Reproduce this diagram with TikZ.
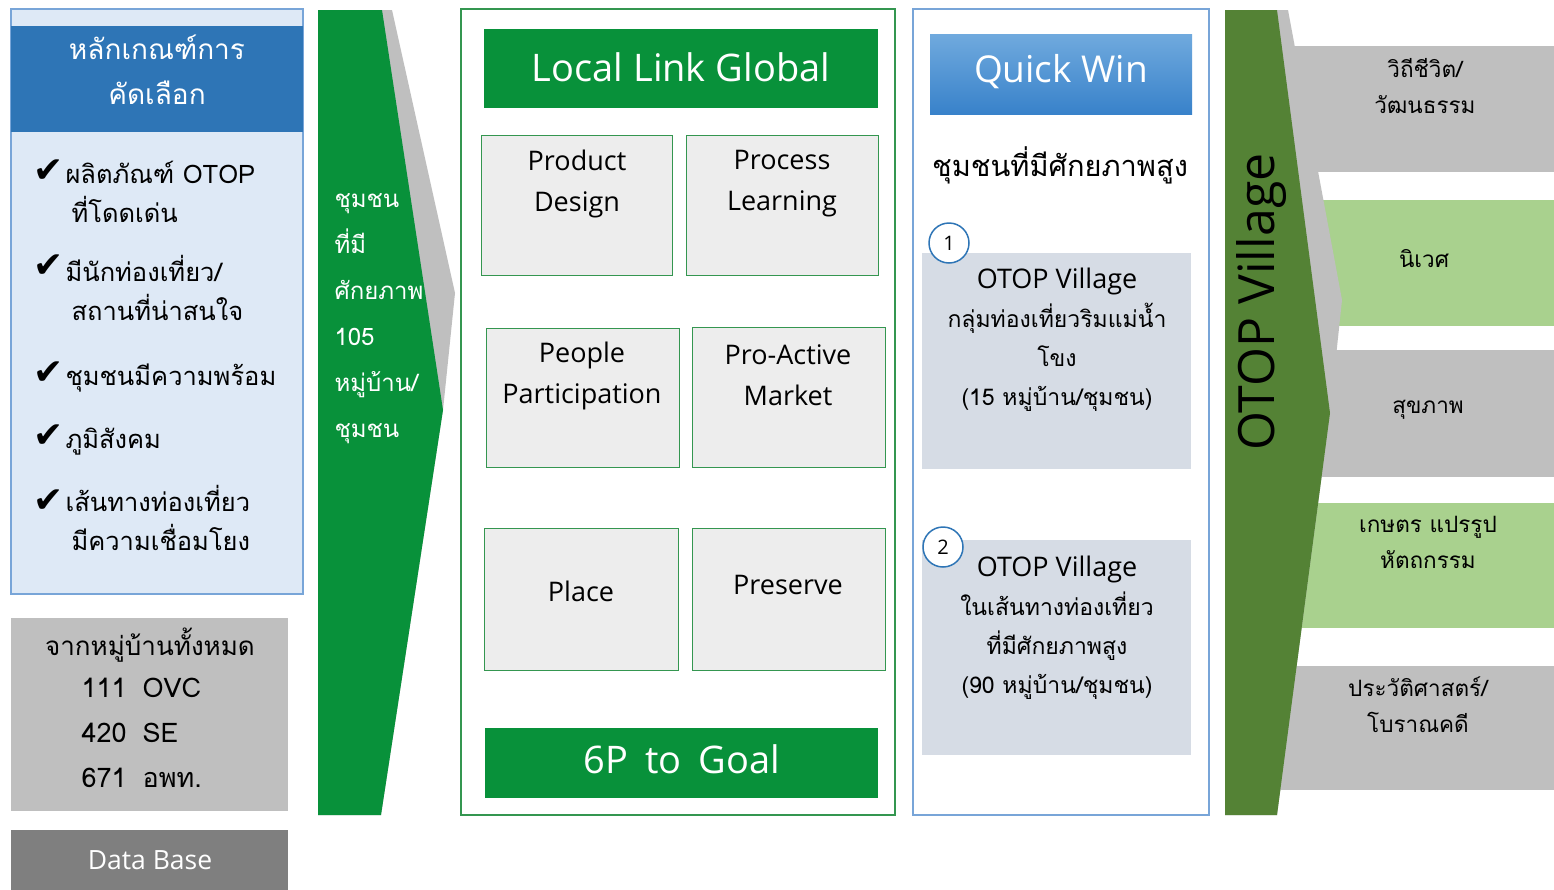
\documentclass[tikz,border=0pt]{standalone}
\usepackage{fontspec}
\setmainfont{Loma}[Script=Thai]
\newfontfamily\latinfont{Open Sans}
\newfontfamily\symbolfont{DejaVu Sans}
\newcommand{\setfs}[2]{\fontsize{#1}{#2}\selectfont}

\definecolor{hdblue}{RGB}{46,117,182}
\definecolor{paleblue}{RGB}{222,233,246}
\definecolor{lineblue}{RGB}{120,165,216}
\definecolor{arrowgreen}{RGB}{8,145,58}
\definecolor{olivegreen}{RGB}{84,130,53}
\definecolor{lightgreen}{RGB}{169,209,142}
\definecolor{midgray}{RGB}{191,191,191}
\definecolor{darkgray}{RGB}{127,127,127}
\definecolor{boxgray}{RGB}{237,237,237}
\definecolor{slategray}{RGB}{214,220,229}
\definecolor{qwtop}{RGB}{112,170,222}
\definecolor{qwbot}{RGB}{56,130,202}
\definecolor{framegreen}{RGB}{52,150,80}

\tikzset{
  block/.style={anchor=north west, inner sep=0pt, outer sep=0pt},
  pbox/.style={block, draw=framegreen, line width=0.8pt, fill=boxgray},
  ptext/.style={align=center, font=\latinfont\setfs{27}{41}},
  bartext/.style={text=white, font=\latinfont\setfs{37}{40}},
  listtext/.style={anchor=base west, align=left, font=\setfs{25.5}{39}},
  chk/.style={anchor=base west, inner sep=0pt, font=\symbolfont\setfs{36}{38}},
  rowtext/.style={align=center, font=\setfs{22.5}{36}},
  qwtext/.style={align=center, font=\setfs{23}{39}},
  numcirc/.style={circle, draw=hdblue, line width=1.5pt, fill=white, minimum size=40pt, inner sep=0pt, font=\latinfont\setfs{20}{24}}
}

\begin{document}
\begin{tikzpicture}[x=1pt, y=-1pt]
    \useasboundingbox (0,0) rectangle (1554,889);
    \fill[white] (0,0) rectangle (1554,889);

    % selection criteria
    \node[block, draw=lineblue, line width=1.2pt, fill=paleblue, minimum width=292, minimum height=585] (crit) at (11,9) {};
    \node[block, fill=hdblue, minimum width=292, minimum height=106] (crithead) at (11,26) {};
    \node[text=white, align=center, font=\setfs{28}{45}] (critlbl) at (157,70) {หลักเกณฑ์การ\\คัดเลือก};

    \foreach \yy [count=\i] in {182,277,384,447,512} {
        \node[chk] (chk\i) at (33,\yy) {✔};
    }
    \node[listtext] (item1) at (62,222) {ผลิตภัณฑ์ OTOP\\\hspace{6pt}ที่โดดเด่น};
    \node[listtext] (item2) at (62,320) {มีนักท่องเที่ยว/\\\hspace{6pt}สถานที่น่าสนใจ};
    \node[listtext] (item3) at (62,385) {ชุมชนมีความพร้อม};
    \node[listtext] (item4) at (62,448) {ภูมิสังคม};
    \node[listtext] (item5) at (62,550) {เส้นทางท่องเที่ยว\\\hspace{6pt}มีความเชื่อมโยง};

    % data base
    \node[block, fill=midgray, minimum width=277, minimum height=193] (allvil) at (11,618) {};
    \node[anchor=base, font=\setfs{26}{44}] (allviltitle) at (150,655) {จากหมู่บ้านทั้งหมด};
    \node[listtext, font=\setfs{27}{45}] (allvilnums) at (78,787) {111\hspace{16pt}OVC\\420\hspace{16pt}SE\\671\hspace{16pt}อพท.};
    \node[block, fill=darkgray, minimum width=277, minimum height=60] (dbase) at (11,830) {};
    \node[text=white, font=\latinfont\setfs{26.5}{28}] (dbaselbl) at (150,860) {Data Base};

    % green arrow
    \fill[midgray] (318,10) -- (392,10) -- (455,293) -- (443,410) -- (381,815) -- (318,815) -- cycle;
    \fill[arrowgreen] (318,10) -- (382,10) -- (443,410) -- (381,815) -- (318,815) -- cycle;
    \node[anchor=base west, align=left, text=white, font=\setfs{24}{46}] (potential) at (331,437)
        {ชุมชน\\ที่มี\\ศักยภาพ\\105\\หมู่บ้าน/\\ชุมชน};

    % 6P
    \node[block, draw=framegreen, line width=1.2pt, minimum width=434, minimum height=806] (sixp) at (461,9) {};
    \node[block, fill=arrowgreen, minimum width=394, minimum height=79] (llg) at (484,29) {};
    \node[bartext, font=\latinfont\setfs{38}{40}] (llglbl) at (681,67) {Local Link Global};
    \node[pbox, minimum width=191, minimum height=140] (pd) at (481,135) {};
    \node[pbox, minimum width=192, minimum height=140] (pl) at (686,135) {};
    \node[pbox, minimum width=193, minimum height=139] (pp) at (486,328) {};
    \node[pbox, minimum width=193, minimum height=140] (pa) at (692,327) {};
    \node[pbox, minimum width=194, minimum height=142] (pc) at (484,528) {};
    \node[pbox, minimum width=193, minimum height=142] (ps) at (692,528) {};
    \node[ptext] (pdlbl) at (577,184) {Product\\Design};
    \node[ptext] (pllbl) at (782,184) {Process\\Learning};
    \node[ptext] (pplbl) at (582,376) {People\\Participation};
    \node[ptext] (palbl) at (788,375) {Pro-Active\\Market};
    \node[ptext] (pclbl) at (581,591) {Place};
    \node[ptext] (pslbl) at (788,585) {Preserve};
    \node[block, fill=arrowgreen, minimum width=393, minimum height=70] (goal) at (485,728) {};
    \node[bartext, font=\latinfont\setfs{38}{40}] (goallbl) at (682,759) {6P\hspace{17pt}to\hspace{17pt}Goal};

    % quick win
    \node[block, draw=lineblue, line width=1.2pt, minimum width=296, minimum height=806] (qw) at (913,9) {};
    \node[block, top color=qwtop, bottom color=qwbot, minimum width=262, minimum height=80] (qwhead) at (930,34) {};
    \node[bartext] (qwlbl) at (1061,72) {Quick Win};
    \node[font=\setfs{29}{36}] (qwsub) at (1060,165) {ชุมชนที่มีศักยภาพสูง};
    \node[block, fill=slategray, minimum width=269, minimum height=216] (grp1) at (922,253) {};
    \node[block, fill=slategray, minimum width=269, minimum height=215] (grp2) at (922,540) {};
    \node[qwtext] (grp1lbl) at (1057,340) {{\latinfont\setfs{27}{39}OTOP Village}\\กลุ่มท่องเที่ยวริมแม่น้ำ\\โขง\\(15 หมู่บ้าน/ชุมชน)};
    \node[qwtext] (grp2lbl) at (1057,628) {{\latinfont\setfs{27}{39}OTOP Village}\\ในเส้นทางท่องเที่ยว\\ที่มีศักยภาพสูง\\(90 หมู่บ้าน/ชุมชน)};
    \node[numcirc] (no1) at (949,243) {1};
    \node[numcirc] (no2) at (943,547) {2};

    % OTOP village rows
    \node[block, fill=midgray, minimum width=294, minimum height=126] (row1) at (1260,46) {};
    \node[block, fill=lightgreen, minimum width=294, minimum height=126] (row2) at (1260,200) {};
    \node[block, fill=midgray, minimum width=294, minimum height=127] (row3) at (1260,350) {};
    \node[block, fill=lightgreen, minimum width=294, minimum height=125] (row4) at (1260,503) {};
    \node[block, fill=midgray, minimum width=294, minimum height=124] (row5) at (1260,666) {};
    \fill[midgray] (1225,10) -- (1288,10) -- (1342,300) -- (1330,413) -- (1277,815) -- (1225,815) -- cycle;
    \fill[olivegreen] (1225,10) -- (1277,10) -- (1330,413) -- (1277,815) -- (1225,815) -- cycle;
    \node[rotate=90, font=\latinfont\setfs{50}{52}] (otop) at (1261,302) {OTOP Village};
    \node[rowtext] (row1lbl) at (1425,86) {วิถีชีวิต/\\วัฒนธรรม};
    \node[rowtext] (row2lbl) at (1424,259) {นิเวศ};
    \node[rowtext] (row3lbl) at (1428,410) {สุขภาพ};
    \node[rowtext] (row4lbl) at (1428,542) {เกษตร แปรรูป\\หัตถกรรม};
    \node[rowtext] (row5lbl) at (1418,705) {ประวัติศาสตร์/\\โบราณคดี};
\end{tikzpicture}
\end{document}
